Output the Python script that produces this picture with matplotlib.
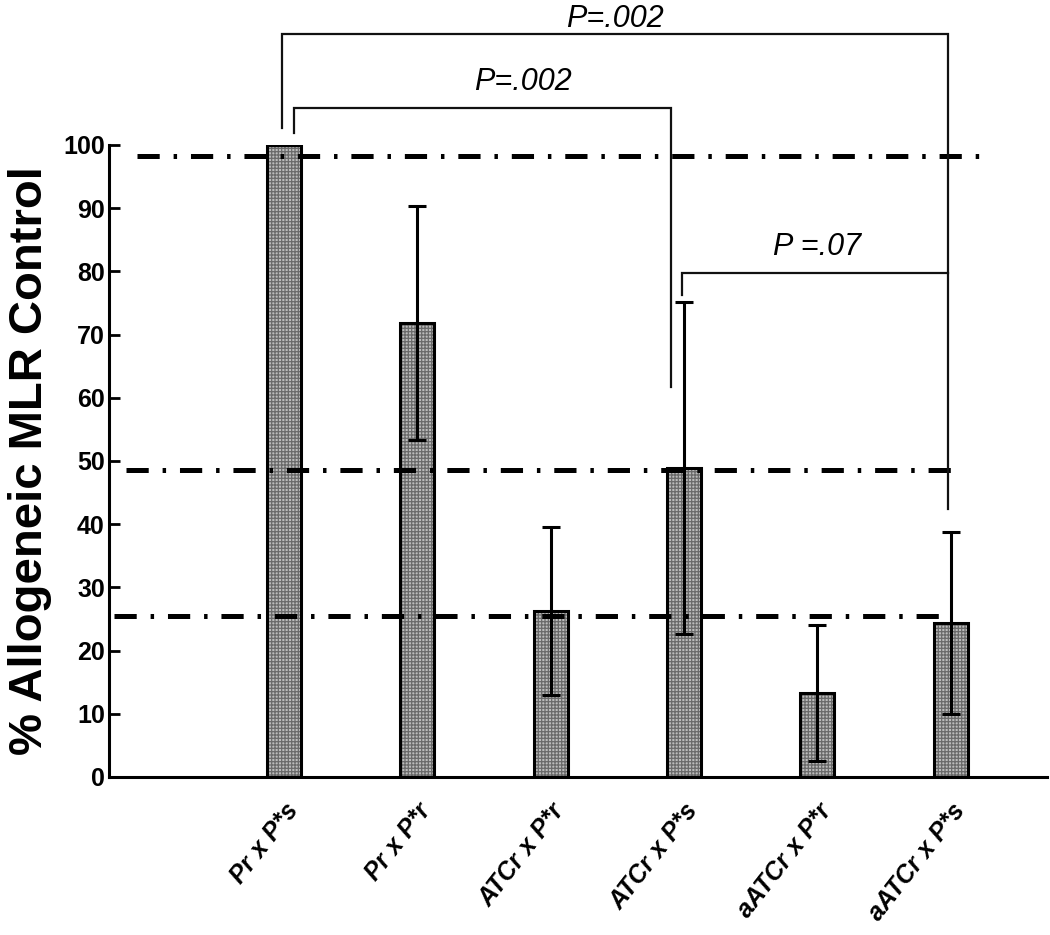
import matplotlib
matplotlib.use("Agg")
import matplotlib.pyplot as plt
import numpy as np

plt.rcParams['font.family'] = ['Liberation Sans', 'DejaVu Sans']
plt.rcParams['hatch.linewidth'] = 0.9
plt.rcParams['lines.scale_dashes'] = False

categories = ["Pr x P*s", "Pr x P*r", "ATCr x P*r", "ATCr x P*s", "aATCr x P*r", "aATCr x P*s"]
values = [100, 71.8, 26.3, 48.9, 13.3, 24.4]
errors = [0, 18.5, 13.3, 26.2, 10.7, 14.4]
ref_levels = [98.3, 48.5, 25.4]
yticks = [0, 10, 20, 30, 40, 50, 60, 70, 80, 90, 100]
ylabel = "% Allogeneic MLR Control"
p_texts = ["P=.002", "P=.002", "P =.07"]

fig = plt.figure(figsize=(10.5, 9.35), dpi=100)
ax = fig.add_axes([0.1038, 0.169, 0.8932, 0.676])

x = np.arange(len(categories))
bw = 0.255
ax.bar(x, values, width=bw, color='#bcbcbc', edgecolor='#6a6a6a', hatch='+++++', linewidth=0, zorder=2)
ax.bar(x, values, width=bw, fill=False, edgecolor='black', linewidth=2.2, zorder=3)

for xi, v, e in zip(x, values, errors):
    if e > 0:
        ax.errorbar(xi, v, yerr=e, fmt='none', ecolor='black', elinewidth=2.2,
                    capsize=6.5, capthick=2.2, zorder=4)

# reference dash-dot lines
line_spans = [(-1.10, 5.22), (-1.18, 5.05), (-1.27, 4.94)]
for lvl, (x0, x1) in zip(ref_levels, line_spans):
    ax.plot([x0, x1], [lvl, lvl], color='black', linewidth=3.6,
            dashes=(16, 10, 2.5, 10), solid_capstyle='butt', dash_capstyle='butt', zorder=5)

# significance brackets
blw = 1.6
kw = dict(color='#111111', linewidth=blw, clip_on=False, zorder=6, solid_joinstyle='miter')
ax.plot([-0.015, -0.015, 4.98, 4.98], [102.7, 117.5, 117.5, 42.4], **kw)
ax.plot([0.08, 0.08, 2.90, 2.90], [101.9, 105.8, 105.8, 61.7], **kw)
ax.plot([2.985, 2.985, 4.98], [76.3, 79.8, 79.8], **kw)

tkw = dict(fontsize=22, style='italic', ha='center', va='center', clip_on=False)
ax.text(2.48, 120.0, p_texts[0], **tkw)
ax.text(1.79, 110.0, p_texts[1], **tkw)
ax.text(4.0, 83.8, p_texts[2], **tkw)

ax.set_xlim(-1.31, 5.72)
ax.set_ylim(0, 100)
ax.set_yticks(yticks)
ax.set_yticklabels([str(t) for t in yticks], fontsize=18, fontweight='bold')
ax.set_xticks(x)
ax.set_xticklabels(categories, fontsize=18, fontweight='bold', style='italic',
                   rotation=52, ha='right', rotation_mode='anchor')
ax.tick_params(axis='x', length=0, pad=16)
ax.tick_params(axis='y', length=8, width=2, direction='in', pad=3)
for s in ['top', 'right']:
    ax.spines[s].set_visible(False)
ax.spines['left'].set_linewidth(2.2)
ax.spines['bottom'].set_linewidth(2.2)
ax.set_ylabel(ylabel, fontsize=34, fontweight='bold', labelpad=8)

fig.savefig('out.png', dpi=100)
